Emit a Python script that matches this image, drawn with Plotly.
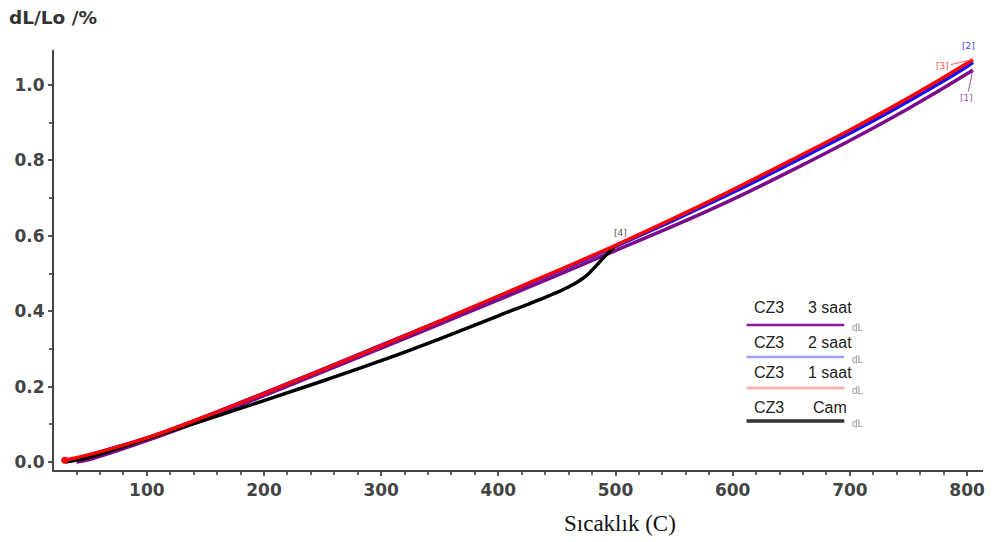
import plotly.graph_objects as go

# Thermal expansion (dL/Lo, %) versus temperature for CZ3 samples
temp_1h = [30, 50, 100, 150, 200, 250, 300, 350, 400, 450, 500, 550, 600, 650, 700, 750, 800, 805]
dl_1h = [0.005, 0.019, 0.064, 0.121, 0.182, 0.245, 0.309, 0.374, 0.44, 0.507, 0.575, 0.647, 0.722, 0.801, 0.881, 0.966, 1.058, 1.068]

temp_2h = [35, 50, 100, 150, 200, 250, 300, 350, 400, 450, 500, 550, 600, 650, 700, 750, 800, 805]
dl_2h = [0.003, 0.018, 0.064, 0.121, 0.183, 0.246, 0.31, 0.374, 0.439, 0.505, 0.572, 0.642, 0.715, 0.793, 0.872, 0.957, 1.049, 1.06]

temp_3h = [40, 50, 100, 150, 200, 250, 300, 350, 400, 450, 500, 550, 600, 650, 700, 750, 800, 805]
dl_3h = [0.0, 0.006, 0.057, 0.114, 0.176, 0.239, 0.302, 0.366, 0.43, 0.495, 0.561, 0.627, 0.697, 0.773, 0.853, 0.938, 1.03, 1.04]

temp_cam = [30, 50, 100, 150, 200, 250, 300, 350, 400, 440, 455, 465, 475, 483, 490, 496, 500]
dl_cam = [0.0, 0.012, 0.062, 0.112, 0.163, 0.215, 0.269, 0.327, 0.388, 0.437, 0.457, 0.473, 0.494, 0.519, 0.543, 0.562, 0.575]

x_ticks = [100, 200, 300, 400, 500, 600, 700, 800]
y_ticks = [0.0, 0.2, 0.4, 0.6, 0.8, 1.0]

legend_rows = [
    ("CZ3", "3 saat", "#8a1a96"),
    ("CZ3", "2 saat", "#9fa3ff"),
    ("CZ3", "1 saat", "#ffb0b0"),
    ("CZ3", "Cam", "#333333"),
]

W, H = 994, 542
ML, MR, MT, MB = 54, 9, 50, 72
PW, PH = W - ML - MR, H - MT - MB


def px(x):
    return (x - ML) / PW


def py(y):
    return (H - MB - y) / PH


fig = go.Figure()
fig.add_trace(go.Scatter(x=temp_3h, y=dl_3h, mode="lines", line=dict(color="#7d0a8c", width=3.5, shape="spline")))
fig.add_trace(go.Scatter(x=temp_2h, y=dl_2h, mode="lines", line=dict(color="#1010ff", width=3.5, shape="spline")))
fig.add_trace(go.Scatter(x=temp_cam, y=dl_cam, mode="lines", line=dict(color="#000000", width=3.5, shape="spline")))
fig.add_trace(go.Scatter(x=temp_1h, y=dl_1h, mode="lines", line=dict(color="#ff0000", width=3.5, shape="spline")))
fig.add_trace(go.Scatter(x=temp_1h[:1], y=dl_1h[:1], mode="markers", marker=dict(color="#ff0000", size=7)))

ann = []
# curve end labels
ann.append(dict(x=temp_2h[-1], y=dl_2h[-1], text="[2]", showarrow=False, yshift=16, xshift=-4,
                font=dict(size=9, color="#3a3aff", family="DejaVu Sans")))
ann.append(dict(x=temp_1h[-1], y=dl_1h[-1], text="[3]", showarrow=True, ax=-30, ay=7, arrowhead=0,
                arrowwidth=1, arrowcolor="#ff6060", font=dict(size=9, color="#ff5050", family="DejaVu Sans")))
ann.append(dict(x=temp_3h[-1], y=dl_3h[-1], text="[1]", showarrow=True, ax=-6, ay=28, arrowhead=0,
                arrowwidth=1, arrowcolor="#9a50a8", font=dict(size=9, color="#9a50a8", family="DejaVu Sans")))
ann.append(dict(x=temp_cam[-1], y=dl_cam[-1], text="[4]", showarrow=False, yshift=12, xshift=5,
                font=dict(size=9, color="#555555", family="DejaVu Sans")))

# axis titles
ann.append(dict(xref="paper", yref="paper", x=px(7), y=py(17), xanchor="left", yanchor="middle",
                text="<b>dL/Lo /%</b>", showarrow=False,
                font=dict(size=18.5, color="#333333", family="DejaVu Sans")))
ann.append(dict(xref="paper", yref="paper", x=px(621), y=py(523), xanchor="center", yanchor="middle",
                text="Sıcaklık (C)", showarrow=False,
                font=dict(size=23, color="#111111", family="Liberation Serif")))

# legend block
shapes = []
row_text_y = [307, 342, 372, 407]
row_line_y = [325, 357, 388, 421]
row_widths = [2.5, 2.5, 3, 3.5]
for (name, label, color), ty, ly, lw in zip(legend_rows, row_text_y, row_line_y, row_widths):
    ann.append(dict(xref="paper", yref="paper", x=px(771), y=py(ty), text=name, showarrow=False,
                    xanchor="center", yanchor="middle",
                    font=dict(size=16, color="#222222", family="Liberation Sans")))
    ann.append(dict(xref="paper", yref="paper", x=px(832), y=py(ty), text=label, showarrow=False,
                    xanchor="center", yanchor="middle",
                    font=dict(size=16, color="#222222", family="Liberation Sans")))
    ann.append(dict(xref="paper", yref="paper", x=px(860), y=py(ly + 2), text="dL", showarrow=False,
                    xanchor="center", yanchor="middle",
                    font=dict(size=10, color="#999999", family="Liberation Sans")))
    shapes.append(dict(type="line", xref="paper", yref="paper", x0=px(748), x1=px(846),
                       y0=py(ly), y1=py(ly), line=dict(color=color, width=lw)))

axis_font = dict(size=17, color="#444444", family="DejaVu Sans")
fig.update_layout(
    width=W, height=H,
    margin=dict(l=ML, r=MR, t=MT, b=MB),
    paper_bgcolor="white", plot_bgcolor="white",
    showlegend=False,
    annotations=ann,
    shapes=shapes,
    xaxis=dict(range=[20.8, 813.6], tickvals=x_ticks, ticktext=[f"<b>{v}</b>" for v in x_ticks],
               showgrid=False, zeroline=False, showline=True, linecolor="#444444", linewidth=2,
               ticks="outside", ticklen=4, tickwidth=1.5, tickcolor="#555555",
               minor=dict(dtick=20, tick0=0, ticks="outside", ticklen=3, tickcolor="#666666", showgrid=False),
               tickfont=axis_font),
    yaxis=dict(range=[-0.021, 1.093], tickvals=y_ticks, ticktext=[f"<b>{v:.1f}</b>" for v in y_ticks],
               showgrid=False, zeroline=False, showline=True, linecolor="#444444", linewidth=2,
               ticks="outside", ticklen=4, tickwidth=1.5, tickcolor="#555555",
               minor=dict(dtick=0.1, tick0=0, ticks="outside", ticklen=3, tickcolor="#666666", showgrid=False),
               tickfont=axis_font),
)

fig.write_html("out.html")
